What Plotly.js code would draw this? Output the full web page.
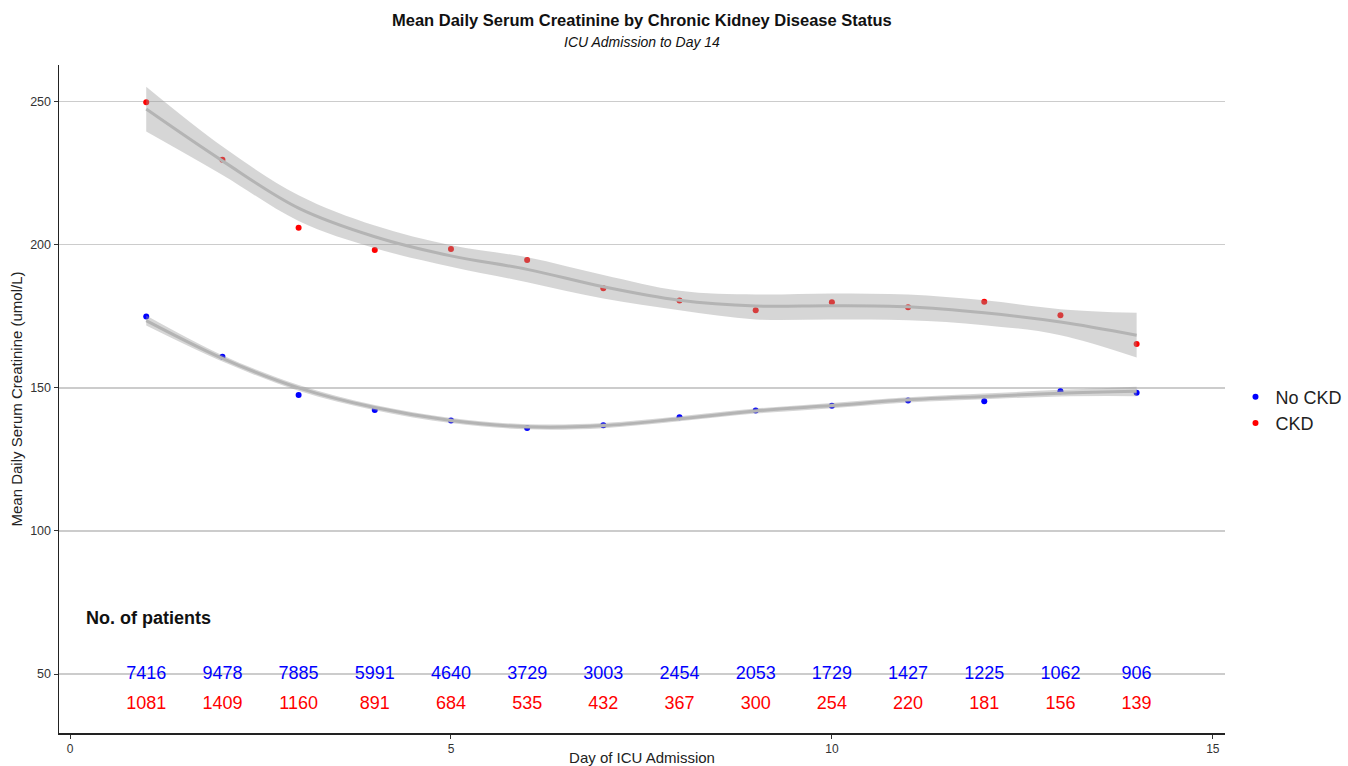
<!DOCTYPE html>
<html>
<head>
<meta charset="utf-8">
<script src="https://cdn.plot.ly/plotly-3.0.1.min.js"></script>
<style>html,body{margin:0;padding:0;background:#fff}#chart{width:1348px;height:766px}</style>
</head>
<body>
<div id="chart"></div>
<script>
// Data
const days = [1,2,3,4,5,6,7,8,9,10,11,12,13,14];
const noCkdMean = [174.9,160.9,147.5,142.3,138.6,136.0,136.9,139.7,142.1,143.7,145.6,145.3,148.8,148.3];
const ckdMean   = [249.8,229.7,205.9,198.2,198.5,194.7,184.8,180.5,177.1,179.9,178.2,180.1,175.4,165.3];

// Smoothed (loess) fits and confidence bands
const noCkdFit   = [173.5,160.3,150.0,143.1,138.6,136.4,136.8,139.2,141.9,143.8,145.8,147.0,148.1,148.8];
const noCkdLower = [171.8,159.2,149.0,142.2,137.7,135.5,135.9,138.3,141.0,142.9,144.9,146.0,147.0,147.1];
const noCkdUpper = [175.3,161.4,151.0,144.0,139.5,137.3,137.7,140.1,142.8,144.7,146.7,148.0,149.3,150.4];
const ckdFit     = [247.4,229.3,212.8,202.8,196.1,191.4,185.3,180.6,178.6,178.7,178.3,176.2,173.0,168.4];
const ckdLower   = [239.6,224.4,208.3,198.8,192.3,186.9,181.2,177.1,173.9,173.9,173.6,171.9,168.4,160.6];
const ckdUpper   = [255.2,234.3,217.3,206.7,199.8,195.6,189.4,183.9,182.6,183.0,182.6,180.6,177.5,176.2];

// Number of patients per day
const noCkdCounts = [7416,9478,7885,5991,4640,3729,3003,2454,2053,1729,1427,1225,1062,906];
const ckdCounts   = [1081,1409,1160,891,684,535,432,367,300,254,220,181,156,139];

const seriesNames = ["No CKD","CKD"];
const countsHeading = "No. of patients";

const FONT = "Liberation Sans, Arial, sans-serif";
const bandFill = "rgba(153,153,153,0.4)";
const fitColor = "rgba(180,180,180,1)";

const countRowY = {noCkd: 50, ckd: 39.5};

const traces = [
  {x: days, y: noCkdMean, type: "scatter", mode: "markers", name: seriesNames[0],
   marker: {color: "blue", size: 6}},
  {x: days, y: ckdMean, type: "scatter", mode: "markers", name: seriesNames[1],
   marker: {color: "red", size: 6}},
  {x: days, y: noCkdLower, type: "scatter", mode: "lines", line: {width: 0, shape: "spline"},
   showlegend: false, hoverinfo: "skip"},
  {x: days, y: noCkdUpper, type: "scatter", mode: "lines", line: {width: 0, shape: "spline"},
   fill: "tonexty", fillcolor: bandFill, showlegend: false, hoverinfo: "skip"},
  {x: days, y: ckdLower, type: "scatter", mode: "lines", line: {width: 0, shape: "spline"},
   showlegend: false, hoverinfo: "skip"},
  {x: days, y: ckdUpper, type: "scatter", mode: "lines", line: {width: 0, shape: "spline"},
   fill: "tonexty", fillcolor: bandFill, showlegend: false, hoverinfo: "skip"},
  {x: days, y: noCkdFit, type: "scatter", mode: "lines", line: {color: fitColor, width: 3, shape: "spline"},
   showlegend: false},
  {x: days, y: ckdFit, type: "scatter", mode: "lines", line: {color: fitColor, width: 3, shape: "spline"},
   showlegend: false},
  {x: days, y: days.map(() => countRowY.noCkd), type: "scatter", mode: "text",
   text: noCkdCounts.map(String), textfont: {color: "blue", size: 18, family: FONT},
   showlegend: false, cliponaxis: false},
  {x: days, y: days.map(() => countRowY.ckd), type: "scatter", mode: "text",
   text: ckdCounts.map(String), textfont: {color: "red", size: 18, family: FONT},
   showlegend: false, cliponaxis: false}
];

const layout = {
  width: 1348, height: 766,
  margin: {l: 59, r: 123, t: 65, b: 33, autoexpand: false},
  paper_bgcolor: "#fff", plot_bgcolor: "#fff",
  font: {family: FONT, color: "#333"},
  showlegend: true,
  legend: {x: 1.009, xanchor: "left", y: 0.4835, yanchor: "middle", traceorder: "normal",
           font: {size: 18, color: "#222", family: FONT}, itemwidth: 30, tracegroupgap: 0},
  xaxis: {
    range: [-0.145, 15.16], tickvals: [0,5,10,15], ticks: "outside", ticklen: 4,
    tickcolor: "#333", showgrid: false, zeroline: false,
    showline: true, linecolor: "#222", linewidth: 1.5,
    tickfont: {size: 12, color: "#333"},
    title: {text: "Day of ICU Admission", font: {size: 15, color: "#222"}, standoff: 4}
  },
  yaxis: {
    range: [29.4, 262.8], tickvals: [50,100,150,200,250], ticks: "outside", ticklen: 4,
    tickcolor: "#333", showgrid: true, gridcolor: "#cccccc", gridwidth: 1.5, zeroline: false,
    showline: true, linecolor: "#222", linewidth: 1.5,
    tickfont: {size: 12.5, color: "#333"},
    title: {text: "Mean Daily Serum Creatinine (umol/L)", font: {size: 15, color: "#222"}, standoff: 4}
  },
  annotations: [
    {text: "<b>Mean Daily Serum Creatinine by Chronic Kidney Disease Status</b>",
     xref: "paper", yref: "paper", x: 0.5, y: 1.0674, xanchor: "center", yanchor: "middle",
     showarrow: false, font: {size: 16.5, color: "#111", family: FONT}},
    {text: "<i>ICU Admission to Day 14</i>",
     xref: "paper", yref: "paper", x: 0.5, y: 1.0344, xanchor: "center", yanchor: "middle",
     showarrow: false, font: {size: 14, color: "#111", family: FONT}},
    {text: "<b>" + countsHeading + "</b>",
     xref: "x", yref: "y", x: 0.18, y: 69.6, xanchor: "left", yanchor: "middle",
     showarrow: false, font: {size: 18, color: "#111", family: FONT}}
  ]
};

Plotly.newPlot("chart", traces, layout, {displayModeBar: false, staticPlot: true});
</script>
</body>
</html>
